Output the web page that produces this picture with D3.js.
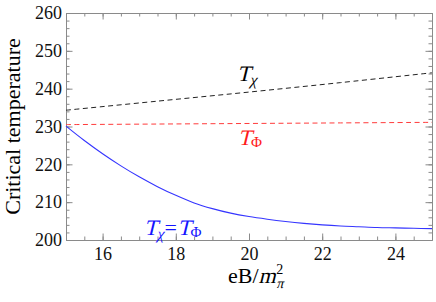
<!DOCTYPE html>
<html>
<head>
<meta charset="utf-8">
<script src="https://cdn.jsdelivr.net/npm/d3@7"></script>
<style>
  body { margin: 0; background: #fff; }
</style>
</head>
<body>
<div id="chart"></div>
<script>
// curves
var eB = [15, 15.5, 16, 16.5, 17, 17.5, 18, 18.5, 19, 19.5, 20, 20.5, 21, 21.5, 22, 22.5, 23, 23.5, 24, 24.5, 25];
var tBoth = [230.1, 226.3, 222.8, 219.6, 216.7, 214.1, 211.8, 209.8, 208.3, 207.1, 206.2, 205.5, 204.9, 204.4, 204.0, 203.7, 203.5, 203.3, 203.2, 203.1, 203.0];
var eBdash = [15, 17.5, 20, 22.5, 25];
var tChi = [234.3, 236.7, 239.1, 241.6, 244.2];
var tPhi = [230.5, 230.65, 230.8, 230.95, 231.1];
var xTicks = [16, 18, 20, 22, 24];
var yTicks = [200, 210, 220, 230, 240, 250, 260];

var width = 436, height = 302;
var m = {left: 66, right: 4, top: 13, bottom: 62};
var serif = "Liberation Serif";

var svg = d3.select("#chart").append("svg")
    .attr("width", width)
    .attr("height", height);

var x = d3.scaleLinear().domain([15, 25]).range([m.left, width - m.right]);
var y = d3.scaleLinear().domain([200, 260]).range([height - m.bottom, m.top]);

var minorX = d3.range(15, 25.01, 0.5);
var minorY = d3.range(200, 260.01, 2);

function styleAxis(g) {
    g.attr("font-family", serif).attr("font-size", 18);
    g.selectAll("path").attr("stroke", "#8a8a8a");
    g.selectAll("line").attr("stroke", "#8a8a8a");
    g.selectAll("text").attr("fill", "#111")
        .attr("font-family", serif).attr("font-size", 18);
}

// minor ticks, all four sides
svg.append("g").attr("transform", "translate(0," + y(200) + ")")
    .call(d3.axisBottom(x).tickValues(minorX).tickSize(-3.5).tickSizeOuter(0).tickFormat(""))
    .call(styleAxis);
svg.append("g").attr("transform", "translate(0," + y(260) + ")")
    .call(d3.axisTop(x).tickValues(minorX).tickSize(-3.5).tickSizeOuter(0).tickFormat(""))
    .call(styleAxis);
svg.append("g").attr("transform", "translate(" + x(15) + ",0)")
    .call(d3.axisLeft(y).tickValues(minorY).tickSize(-3.5).tickSizeOuter(0).tickFormat(""))
    .call(styleAxis);
svg.append("g").attr("transform", "translate(" + x(25) + ",0)")
    .call(d3.axisRight(y).tickValues(minorY).tickSize(-3.5).tickSizeOuter(0).tickFormat(""))
    .call(styleAxis);

// major ticks
svg.append("g").attr("transform", "translate(0," + y(200) + ")")
    .call(d3.axisBottom(x).tickValues(xTicks).tickSize(-6.5).tickSizeOuter(0).tickPadding(7))
    .call(styleAxis);
svg.append("g").attr("transform", "translate(0," + y(260) + ")")
    .call(d3.axisTop(x).tickValues(xTicks).tickSize(-6.5).tickSizeOuter(0).tickFormat(""))
    .call(styleAxis);
svg.append("g").attr("transform", "translate(" + x(15) + ",0)")
    .call(d3.axisLeft(y).tickValues(yTicks).tickSize(-6.5).tickSizeOuter(0).tickPadding(4))
    .call(styleAxis);
svg.append("g").attr("transform", "translate(" + x(25) + ",0)")
    .call(d3.axisRight(y).tickValues(yTicks).tickSize(-6.5).tickSizeOuter(0).tickFormat(""))
    .call(styleAxis);

var line = d3.line()
    .x(function(d) { return x(d[0]); })
    .y(function(d) { return y(d[1]); })
    .curve(d3.curveCatmullRom);

svg.append("path")
    .datum(d3.zip(eBdash, tChi))
    .attr("d", line)
    .attr("fill", "none").attr("stroke", "#222").attr("stroke-width", 1)
    .attr("stroke-dasharray", "5,3.5");

svg.append("path")
    .datum(d3.zip(eBdash, tPhi))
    .attr("d", line)
    .attr("fill", "none").attr("stroke", "#ff3b3b").attr("stroke-width", 1)
    .attr("stroke-dasharray", "5,3.5");

svg.append("path")
    .datum(d3.zip(eB, tBoth))
    .attr("d", line)
    .attr("fill", "none").attr("stroke", "#3535ff").attr("stroke-width", 1.1);

// math-ish labels: each piece is its own text, italics faked with a skew
// (the serif italic face does not resolve here)
function mathLabel(x0, y0, color, parts) {
    var cx = x0;
    parts.forEach(function(p) {
        var t = svg.append("text")
            .attr("font-family", serif)
            .attr("font-size", p.size)
            .attr("fill", color)
            .text(p.t);
        var yy = y0 + (p.dy || 0);
        var tr = "translate(" + (cx + (p.dx || 0)) + "," + yy + ")";
        if (p.italic) tr += " skewX(-14)";
        t.attr("transform", tr);
        if (!p.stack) cx += t.node().getComputedTextLength() + (p.dx || 0) + (p.gap || 0);
    });
}

mathLabel(237, 81, "#000", [
    {t: "T", size: 22, italic: true, gap: -1},
    {t: "χ", size: 16, italic: true, dy: 4}
]);

mathLabel(238, 145, "#ff1a1a", [
    {t: "T", size: 22, italic: true, gap: -0.5},
    {t: "Φ", size: 15, dy: 2}
]);

mathLabel(144, 235, "#1414ff", [
    {t: "T", size: 22, italic: true, gap: -1},
    {t: "χ", size: 16, italic: true, dy: 4, gap: 1},
    {t: "=", size: 22, gap: 0.5},
    {t: "T", size: 22, italic: true, gap: -0.5},
    {t: "Φ", size: 15, dy: 2}
]);

// axis titles
svg.append("text")
    .attr("transform", "translate(20," + ((m.top + height - m.bottom) / 2) + ") rotate(-90)")
    .attr("text-anchor", "middle")
    .attr("font-family", serif).attr("font-size", 22)
    .text("Critical temperature");

mathLabel(228, 283, "#000", [
    {t: "eB/", size: 22},
    {t: "m", size: 22, italic: true, gap: 0.5},
    {t: "2", size: 14, dy: -9, stack: true},
    {t: "π", size: 14, italic: true, dy: 5}
]);
</script>
</body>
</html>
